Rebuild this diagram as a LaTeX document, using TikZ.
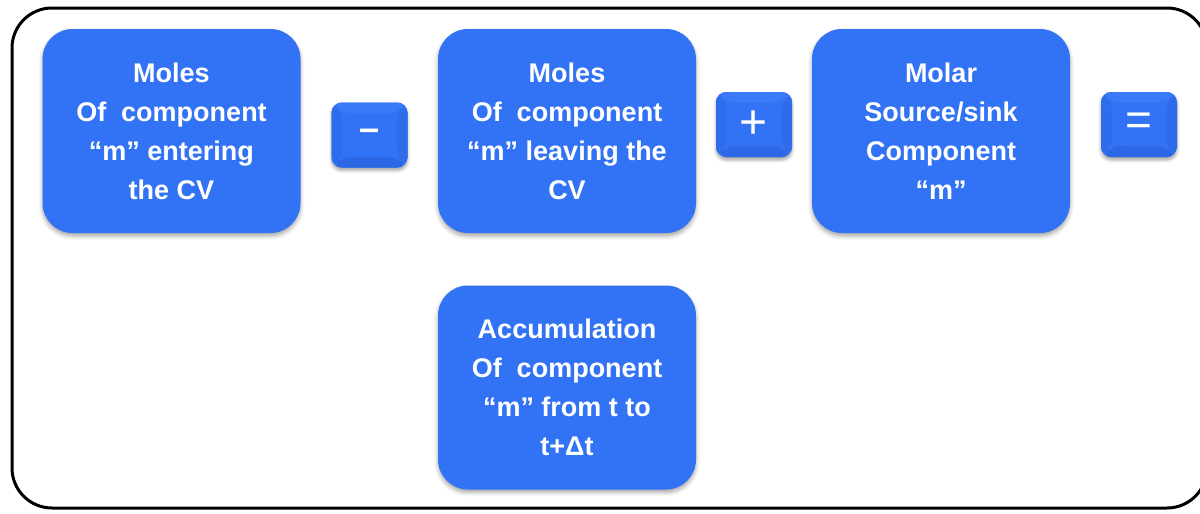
\documentclass[tikz,border=0pt]{standalone}
\usepackage{fontspec}
\setmainfont{Liberation Sans}
\usetikzlibrary{shadows.blur}
\definecolor{boxblue}{RGB}{50,114,244}
\definecolor{btnlight}{RGB}{58,122,248}
\definecolor{btndark}{RGB}{44,104,230}
\definecolor{btnside}{RGB}{46,108,236}
\tikzset{
  bigbox/.style={rectangle, rounded corners=30pt, fill=boxblue, minimum width=258pt, minimum height=204pt,
    text=white, font=\fontsize{27}{39}\selectfont\bfseries, align=center, inner sep=0pt,
    blur shadow={shadow xshift=0pt, shadow yshift=-3pt, shadow blur radius=4pt, shadow opacity=35}},
  signbox/.style={rectangle, rounded corners=10pt, fill=boxblue, minimum width=76pt, minimum height=65pt,
    text=white, inner sep=0pt,
    blur shadow={shadow xshift=0pt, shadow yshift=-3pt, shadow blur radius=3pt, shadow opacity=35},
    path picture={
      \fill[btnlight] (path picture bounding box.north west) -- (path picture bounding box.north east)
        -- ([xshift=-11pt,yshift=-11pt]path picture bounding box.north east)
        -- ([xshift=11pt,yshift=-11pt]path picture bounding box.north west) -- cycle;
      \fill[btndark] (path picture bounding box.south west) -- (path picture bounding box.south east)
        -- ([xshift=-11pt,yshift=11pt]path picture bounding box.south east)
        -- ([xshift=11pt,yshift=11pt]path picture bounding box.south west) -- cycle;
      \fill[btnside] (path picture bounding box.north west) -- ([xshift=11pt,yshift=-11pt]path picture bounding box.north west)
        -- ([xshift=11pt,yshift=11pt]path picture bounding box.south west) -- (path picture bounding box.south west) -- cycle;
      \fill[btnside] (path picture bounding box.north east) -- ([xshift=-11pt,yshift=-11pt]path picture bounding box.north east)
        -- ([xshift=-11pt,yshift=11pt]path picture bounding box.south east) -- (path picture bounding box.south east) -- cycle;
      \fill[boxblue] ([xshift=11pt,yshift=-11pt]path picture bounding box.north west) rectangle ([xshift=-11pt,yshift=11pt]path picture bounding box.south east);
    }},
  frame/.style={draw=black, line width=3pt, rounded corners=40pt}
}
\begin{document}
\begin{tikzpicture}[x=1pt,y=-1pt]
\useasboundingbox (0,0) rectangle (1200,514);
\clip (0,0) rectangle (1200,514);
\draw[frame] (12,8) rectangle (1207,508);
\node[bigbox] (enter) at (171.5,131) {Moles\\Of\ \ component\\“m” entering\\the CV};
\node[signbox] (minus) at (369.5,135) {\fontsize{36}{36}\selectfont\bfseries –};
\node[bigbox] (leave) at (567,131) {Moles\\Of\ \ component\\“m” leaving the\\CV};
\node[signbox] (plus) at (754,124.5) {\fontsize{48}{48}\selectfont +};
\node[bigbox] (source) at (941,131) {Molar\\Source/sink\\Component\\“m”};
\node[signbox] (equal) at (1139,124.5) {\fontsize{46}{46}\selectfont =};
\node[bigbox] (accum) at (567,387.5) {Accumulation\\Of\ \ component\\“m” from t to\\t+Δt};
\end{tikzpicture}
\end{document}
